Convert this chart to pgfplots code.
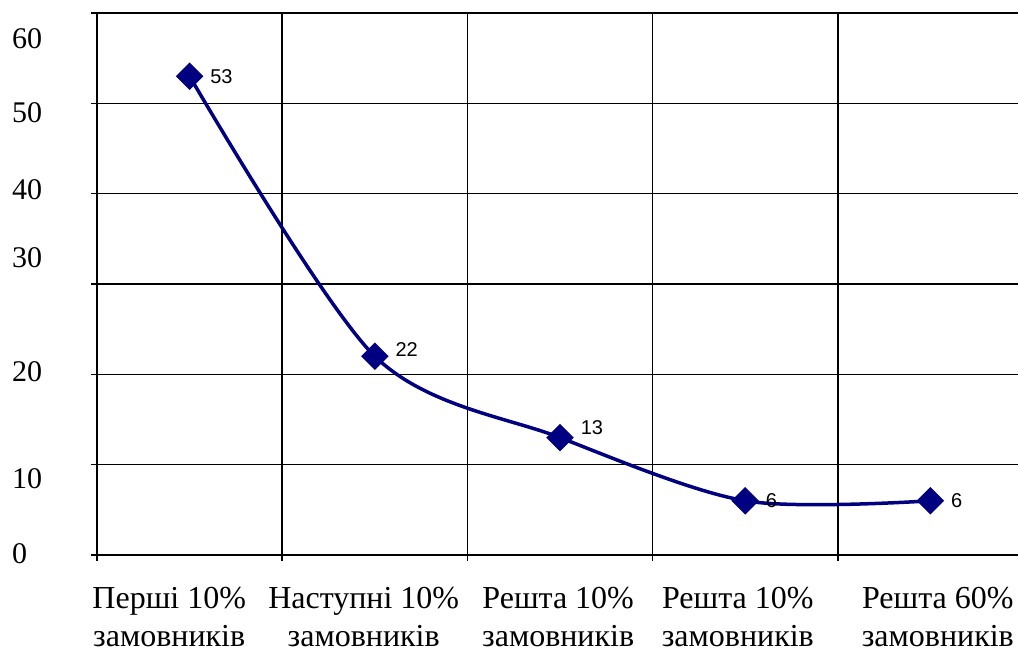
\documentclass[border=0pt]{standalone}
\usepackage{pgfplots}
\usepackage{pgfplotstable}
\pgfplotsset{compat=1.18}
\usepackage{fontspec}
\setmainfont{Liberation Serif}
\newfontfamily\arialf{Liberation Sans}
\definecolor{navyc}{RGB}{0,0,128}
\pgfplotstableread{
x y lbl dy
0 53 53 0
1 22 22 7
2 13 13 10
3 6 6 0
4 6 6 0
}\datatab
\begin{document}
\begin{tikzpicture}[x=1bp,y=1bp]
\useasboundingbox (0,0) rectangle (1018,652);
\begin{axis}[
 at={(97bp,97bp)}, anchor=south west,
 scale only axis, width=926bp, height=542bp,
 xmin=-0.5, xmax=4.5, ymin=0, ymax=60,
 axis x line*=bottom, axis y line*=left,
 axis line style={line width=1.5bp, black},
 xtick={-0.11,0.94,1.99,2.96,4.04},
 xticklabels={{Перші 10\%\\замовників},{Наступні 10\%\\замовників},{Решта 10\%\\замовників},{Решта 10\%\\замовників},{Решта 60\%\\замовників}},
 xticklabel style={align=center, font=\fontsize{32bp}{38bp}\selectfont, anchor=north, inner sep=0pt, yshift=-32bp},
 ytick={0.2,8.4,20.3,32.9,40.4,49.0,57.2},
 yticklabels={0,10,20,30,40,50,60},
 yticklabel style={anchor=west, inner sep=0pt, xshift=-85bp, font=\fontsize{30bp}{36bp}\selectfont},
 major tick length=0pt,
 extra x ticks={-0.5,0.5,1.5,2.5,3.5},
 extra x tick labels={},
 extra x tick style={grid=major, major tick length=6bp, tick align=outside, major tick style={draw=black, line width=1.5bp}},
 extra y ticks={0,10,20,30,40,50,60},
 extra y tick labels={},
 extra y tick style={grid=major, major tick length=6bp, tick align=outside, major tick style={draw=black, line width=1.5bp}},
 grid style={line width=1.5bp, black},
 clip=false,
]
\addplot[navyc, line width=3.5bp, smooth, mark=square*, mark size=8bp,
  mark options={rotate=45, solid, fill=navyc, draw=navyc},
  nodes near coords, point meta=explicit symbolic,
  visualization depends on={\thisrow{dy} \as \dy},
  nodes near coords style={anchor=west, xshift=19bp, yshift=\dy bp, inner sep=0pt, font=\arialf\fontsize{20bp}{24bp}\selectfont, text=black}]
  table[x=x, y=y, meta=lbl] {\datatab};
\end{axis}
\end{tikzpicture}
\end{document}
